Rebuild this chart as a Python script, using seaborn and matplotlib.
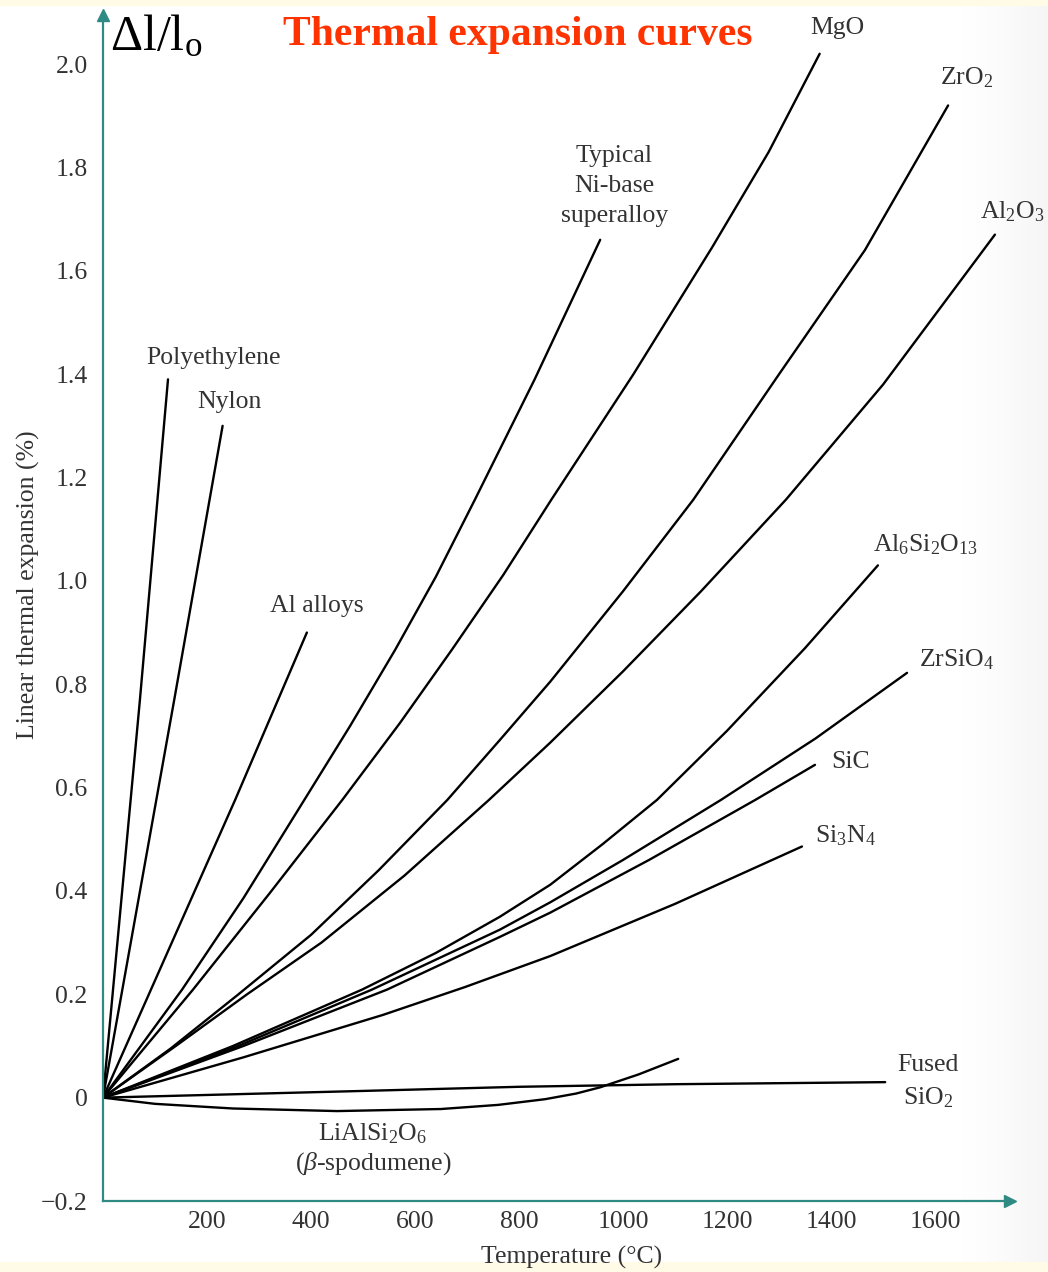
import matplotlib as mpl
mpl.use('Agg')
import matplotlib.pyplot as plt
import numpy as np
import pandas as pd
import seaborn as sns

# readings: temperature (deg C) and linear expansion (%)
poly_T = [0, 71, 125]
poly_v = [0, 0.77, 1.39]
nylon_T = [0, 137, 230]
nylon_v = [0, 0.77, 1.30]
al_T = [0, 254, 392]
al_v = [0, 0.576, 0.90]
ni_T = [0, 152, 270, 387, 475, 562, 640, 715, 830, 956]
ni_v = [0, 0.209, 0.386, 0.576, 0.719, 0.867, 1.008, 1.157, 1.39, 1.66]
mgo_T = [0, 173, 320, 460, 571, 671, 770, 862, 1020, 1171, 1280, 1378]
mgo_v = [0, 0.209, 0.395, 0.576, 0.725, 0.867, 1.012, 1.157, 1.40, 1.645, 1.83, 2.02]
zro2_T = [0, 130, 258, 400, 530, 662, 763, 860, 1000, 1135, 1300, 1465, 1625]
zro2_v = [0, 0.095, 0.198, 0.315, 0.44, 0.576, 0.692, 0.805, 0.98, 1.157, 1.40, 1.64, 1.92]
al2o3_T = [0, 140, 277, 420, 580, 742, 860, 1000, 1150, 1313, 1500, 1715]
al2o3_v = [0, 0.10, 0.20, 0.30, 0.43, 0.576, 0.687, 0.825, 0.98, 1.157, 1.38, 1.67]
mullite_T = [0, 250, 498, 640, 763, 860, 960, 1065, 1200, 1350, 1490]
mullite_v = [0, 0.10, 0.209, 0.28, 0.350, 0.412, 0.49, 0.576, 0.71, 0.87, 1.03]
zrsio4_T = [0, 260, 517, 763, 860, 1000, 1188, 1370, 1546]
zrsio4_v = [0, 0.10, 0.209, 0.325, 0.378, 0.46, 0.576, 0.695, 0.822]
sic_T = [0, 270, 546, 763, 860, 1050, 1254, 1369]
sic_v = [0, 0.10, 0.209, 0.311, 0.358, 0.46, 0.576, 0.644]
si3n4_T = [0, 270, 538, 696, 860, 1100, 1344]
si3n4_v = [0, 0.078, 0.160, 0.214, 0.274, 0.375, 0.486]
fused_T = [0, 500, 800, 1100, 1504]
fused_v = [0, 0.013, 0.021, 0.026, 0.030]
spod_T = [0, 100, 250, 450, 650, 760, 850, 910, 956, 1030, 1106]
spod_v = [0, -0.012, -0.021, -0.026, -0.022, -0.014, -0.003, 0.008, 0.020, 0.045, 0.075]

y_ticks = [-0.2, 0, 0.2, 0.4, 0.6, 0.8, 1.0, 1.2, 1.4, 1.6, 1.8, 2.0]
y_ticklabels = ['\u22120.2', '0', '0.2', '0.4', '0.6', '0.8', '1.0', '1.2', '1.4', '1.6', '1.8', '2.0']
x_ticks = [200, 400, 600, 800, 1000, 1200, 1400, 1600]

curves = {
    'Polyethylene': (poly_T, poly_v),
    'Nylon': (nylon_T, nylon_v),
    'Al alloys': (al_T, al_v),
    'Ni superalloy': (ni_T, ni_v),
    'MgO': (mgo_T, mgo_v),
    'ZrO2': (zro2_T, zro2_v),
    'Al2O3': (al2o3_T, al2o3_v),
    'Al6Si2O13': (mullite_T, mullite_v),
    'ZrSiO4': (zrsio4_T, zrsio4_v),
    'SiC': (sic_T, sic_v),
    'Si3N4': (si3n4_T, si3n4_v),
    'Fused SiO2': (fused_T, fused_v),
    'LiAlSi2O6': (spod_T, spod_v),
}
df = pd.concat([pd.DataFrame({'material': k, 'T': t, 'dl': v}) for k, (t, v) in curves.items()],
               ignore_index=True)

# label text, position (data coords), horizontal alignment, line spacing
labels = [
    ('Polyethylene', 213, 1.431, 'center', 1.2),
    ('Nylon', 244, 1.346, 'center', 1.2),
    ('Al alloys', 412, 0.952, 'center', 1.2),
    ('Typical\nNi-base\nsuperalloy', 983, 1.764, 'center', 1.45),
    ('MgO', 1412, 2.07, 'center', 1.2),
    ('ZrO$_2$', 1660, 1.973, 'center', 1.2),
    ('Al$_2$O$_3$', 1810, 1.714, 'right', 1.2),
    ('Al$_6$Si$_2$O$_{13}$', 1581, 1.070, 'center', 1.2),
    ('ZrSiO$_4$', 1642, 0.847, 'center', 1.2),
    ('SiC', 1437, 0.650, 'center', 1.2),
    ('Si$_3$N$_4$', 1427, 0.507, 'center', 1.2),
    ('Fused\nSiO$_2$', 1587, 0.030, 'center', 1.5),
    ('LiAlSi$_2$O$_6$\n($\\beta$-spodumene)', 519, -0.10, 'center', 1.25),
]

sns.set_style('white')
plt.rcParams['font.family'] = ['Liberation Serif', 'DejaVu Serif']
plt.rcParams['mathtext.fontset'] = 'custom'
plt.rcParams['mathtext.rm'] = 'Liberation Serif'
plt.rcParams['mathtext.it'] = 'Liberation Serif:italic'

axis_col = '#2f8a84'
text_col = '#333333'
fs = 18.5

fig = plt.figure(figsize=(10.48, 12.72), dpi=100)
fig.patch.set_facecolor('white')

# cream slide strips top and bottom
fig.patches.append(mpl.patches.Rectangle((0, 1 - 5 / 1272), 1, 5 / 1272, transform=fig.transFigure,
                                         color='#fffbe6', zorder=0))
fig.patches.append(mpl.patches.Rectangle((0, 0), 1, 10 / 1272, transform=fig.transFigure,
                                         color='#fffbe6', zorder=0))
# faded page on the right edge
bg = fig.add_axes([950 / 1048, 10 / 1272, 98 / 1048, 1257 / 1272], zorder=-1)
grad = np.linspace(0, 1, 100)[None, :] ** 1.5
bg.imshow(grad, aspect='auto', cmap='Greys', vmin=0, vmax=12, extent=[0, 1, 0, 1])
bg.axis('off')

ax = fig.add_axes([103 / 1048, 1 - 1201 / 1272, 907 / 1048, 1186 / 1272])
ax.set_facecolor('none')

sns.lineplot(data=df, x='T', y='dl', units='material', estimator=None, sort=False,
             color='black', lw=1.7, ax=ax)

ax.set_xlim(0, 1744)
ax.set_ylim(-0.2, 2.095)
ax.set_xticks(x_ticks)
ax.set_xticklabels([str(t) for t in x_ticks])
ax.set_yticks(y_ticks)
ax.set_yticklabels(y_ticklabels)
ax.tick_params(axis='both', direction='in', length=11, width=1.3, color=axis_col,
               labelsize=fs, labelcolor=text_col)
ax.tick_params(axis='y', pad=11)
ax.tick_params(axis='x', pad=7)
ax.set_xlabel('')
ax.set_ylabel('')

for side in ['top', 'right']:
    ax.spines[side].set_visible(False)
for side in ['left', 'bottom']:
    ax.spines[side].set_color(axis_col)
    ax.spines[side].set_linewidth(1.6)

# arrow heads on the axes
ax.plot(0, 1, marker='^', ms=9, color=axis_col, transform=ax.transAxes, clip_on=False)
ax.plot(1, 0, marker='>', ms=9, color=axis_col, transform=ax.transAxes, clip_on=False)

for txt, tx, ty, ha, ls in labels:
    ax.text(tx, ty, txt, ha=ha, va='center', fontsize=fs, color=text_col,
            linespacing=ls, clip_on=False)

fig.text(28 / 1048, 1 - 585 / 1272, 'Linear thermal expansion (%)', rotation=90,
         ha='center', va='center', fontsize=fs, color=text_col)
fig.text(572 / 1048, 1 - 1257 / 1272, 'Temperature (\u00b0C)', ha='center', va='center',
         fontsize=fs, color=text_col)

fig.text(518 / 1048, 1 - 35 / 1272, 'Thermal expansion curves', ha='center', va='center',
         fontsize=30, fontweight='bold', color='#ff3300')
fig.text(110 / 1048, 1 - 38 / 1272, '\u0394l/l$_\\mathrm{o}$', ha='left', va='center',
         fontsize=36, color='black')

plt.savefig('out.png', dpi=100)
